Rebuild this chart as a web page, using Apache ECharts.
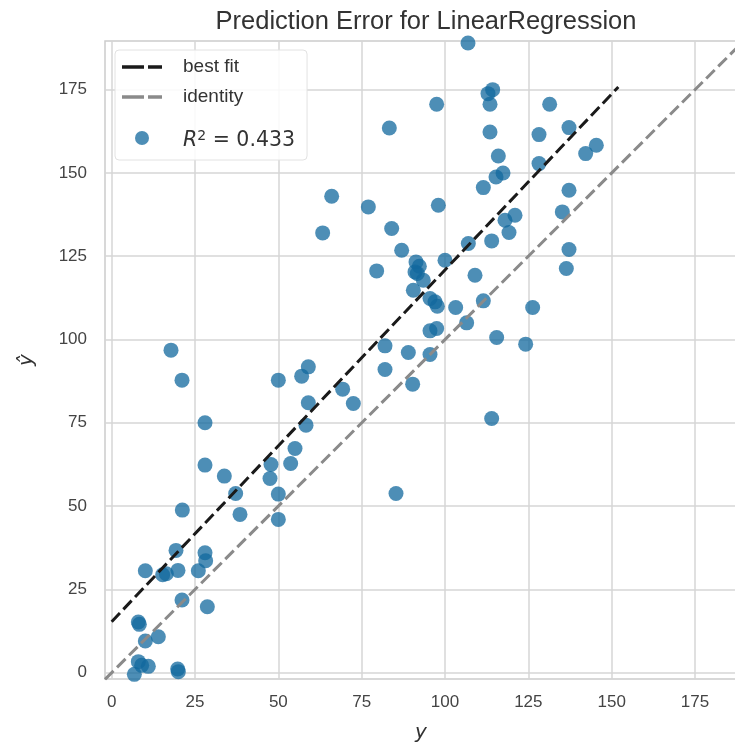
<!DOCTYPE html>
<html>
<head>
<meta charset="utf-8">
<script src="https://cdn.jsdelivr.net/npm/echarts@6/dist/echarts.min.js"></script>
<style>
  html, body { margin: 0; padding: 0; background: #fff; }
  #main { width: 735px; height: 745px; }
</style>
</head>
<body>
<div id="main"></div>
<script>
// actual values (y) and predicted values (y hat)
var actualY = [
  106.9, 112.9, 114.3, 113.5, 97.5, 131.4, 83.3, 113.5, 128.2, 137.2,
  145.4, 142.2, 116.0, 117.4, 115.3, 128.2, 111.5, 137.2, 77.0, 98.0,
  135.2, 84.0, 87.0, 118.0, 121.0, 119.2, 107.0, 114.0, 137.2, 91.3,
  92.3, 91.0, 91.7, 93.5, 100.0, 79.5, 136.4, 109.0, 66.0, 63.3,
  90.5, 95.5, 97.0, 97.7, 103.2, 111.5, 126.3, 106.5, 95.5, 97.5,
  115.5, 124.2, 82.0, 89.0, 95.5, 82.0, 90.3, 50.0, 59.0, 57.0,
  69.3, 72.5, 59.0, 58.3, 114.0, 55.0, 47.8, 53.7, 47.5, 50.0,
  50.0, 85.3, 17.8, 21.1, 28.0, 28.0, 33.8, 37.2, 38.5, 21.2,
  19.3, 28.0, 28.2, 10.1, 15.3, 16.4, 19.9, 26.0, 21.1, 28.7,
  8.0, 8.3, 10.1, 14.0, 8.0, 9.0, 11.0, 6.8, 19.8, 20.0
];
var predictedY = [
  189.0, 173.8, 175.0, 170.6, 170.6, 170.6, 163.5, 162.3, 161.5, 163.6,
  158.3, 155.8, 155.1, 150.0, 148.8, 152.8, 145.6, 144.8, 139.8, 140.3,
  138.3, 133.3, 126.8, 135.8, 137.3, 132.1, 128.8, 129.6, 127.0, 123.3,
  122.0, 120.3, 119.8, 117.8, 123.8, 120.6, 121.3, 119.3, 143.0, 132.0,
  114.8, 112.3, 111.3, 110.0, 109.6, 111.6, 109.6, 105.0, 102.6, 103.3,
  100.6, 98.6, 98.1, 96.1, 95.5, 91.0, 86.6, 87.8, 91.8, 89.0,
  85.1, 80.8, 81.0, 74.3, 76.3, 67.3, 62.5, 62.8, 58.3, 53.6,
  46.0, 53.8, 96.8, 87.8, 75.0, 62.3, 59.0, 53.8, 47.5, 48.8,
  36.7, 36.0, 33.6, 30.6, 29.4, 29.7, 30.7, 30.6, 21.8, 19.8,
  15.2, 14.5, 9.5, 10.8, 3.3, 2.2, 1.9, -0.5, 1.1, 0.3
];
var bestFitX = [0, 152];
var bestFitY = [15.3, 175.8];
var identityXY = [-2, 190];
var tickValues = [0, 25, 50, 75, 100, 125, 150, 175];
var r2Text = '0.433';

var chartDom = document.getElementById('main');
var myChart = echarts.init(chartDom);

var font = 'Liberation Sans, Arial, Helvetica, sans-serif';

var points = actualY.map(function (v, i) { return [v, predictedY[i]]; });
var fitLine = bestFitX.map(function (v, i) { return [v, bestFitY[i]]; });
var idLine = identityXY.map(function (v) { return [v, v]; });

var dashIcon = 'path://M0,0h22v3.5h-22z M26,0h14v3.5h-14z';

var option = {
  backgroundColor: '#fff',
  animation: false,
  title: {
    text: 'Prediction Error for LinearRegression',
    left: 421,
    textAlign: 'center',
    top: 4,
    textStyle: { fontFamily: font, fontSize: 25.5, fontWeight: 'normal', color: '#333' }
  },
  grid: {
    left: 105, right: -2, top: 41, bottom: 66,
    outerBoundsMode: 'none',
    show: true, backgroundColor: '#fff', borderColor: '#cccccc', borderWidth: 1.5
  },
  legend: {
    orient: 'vertical',
    left: 115, top: 50,
    padding: [6, 12, 0, 7],
    itemGap: 8,
    itemWidth: 40, itemHeight: 14,
    backgroundColor: 'rgba(255,255,255,0.85)',
    borderColor: '#e2e2e2', borderWidth: 1, borderRadius: 4,
    data: [
      { name: 'best fit', icon: dashIcon },
      { name: 'identity', icon: dashIcon },
      { name: 'R2', icon: 'circle', textStyle: { padding: [6, 0, 0, 16] } }
    ],
    formatter: function (name) {
      if (name === 'R2') return '{r|R}{s|2}{t| = ' + r2Text + '}';
      return name;
    },
    textStyle: {
      fontFamily: font, fontSize: 19, color: '#333', lineHeight: 22, padding: [0, 0, 0, 16],
      rich: {
        r: { fontFamily: 'DejaVu Sans', fontStyle: 'italic', fontSize: 20.5, color: '#333', lineHeight: 38 },
        s: { fontFamily: 'DejaVu Sans', fontSize: 14, color: '#333', padding: [0, 0, 10, 0] },
        t: { fontFamily: 'DejaVu Sans', fontSize: 20.5, color: '#333' }
      }
    }
  },
  xAxis: {
    type: 'value', min: -2, max: 187.6,
    name: 'y', nameLocation: 'middle', nameGap: 44,
    nameTextStyle: { fontFamily: 'DejaVu Sans', fontStyle: 'italic', fontSize: 20, color: '#333' },
    axisLine: { show: false },
    axisTick: { show: false, customValues: tickValues },
    axisLabel: { customValues: tickValues, margin: 15, fontFamily: font, fontSize: 17, color: '#444' },
    splitLine: { show: true, lineStyle: { color: '#d6d6d6', width: 1.5 } }
  },
  yAxis: {
    type: 'value', min: -1.9, max: 189.6,
    name: '\u0177', nameLocation: 'middle', nameGap: 68, nameRotate: 90,
    nameTextStyle: { fontFamily: 'DejaVu Sans', fontStyle: 'italic', fontSize: 20, color: '#333' },
    axisLine: { show: false },
    axisTick: { show: false, customValues: tickValues },
    axisLabel: { customValues: tickValues, margin: 18, fontFamily: font, fontSize: 17, color: '#444' },
    splitLine: { show: true, lineStyle: { color: '#d6d6d6', width: 1.5 } }
  },
  series: [
    {
      name: 'R2',
      type: 'scatter',
      data: points,
      symbolSize: 15,
      itemStyle: { color: 'rgb(18,104,157)', opacity: 0.75 },
      z: 2
    },
    {
      name: 'best fit',
      type: 'line',
      data: fitLine,
      color: '#1a1a1a',
      showSymbol: false, symbol: 'none',
      lineStyle: { color: '#1a1a1a', width: 3, type: [12, 5] },
      z: 3
    },
    {
      name: 'identity',
      type: 'line',
      data: idLine,
      color: '#8a8a8a',
      showSymbol: false, symbol: 'none',
      lineStyle: { color: '#8a8a8a', width: 3, type: [12, 5] },
      z: 3
    }
  ]
};

myChart.setOption(option);
</script>
</body>
</html>
